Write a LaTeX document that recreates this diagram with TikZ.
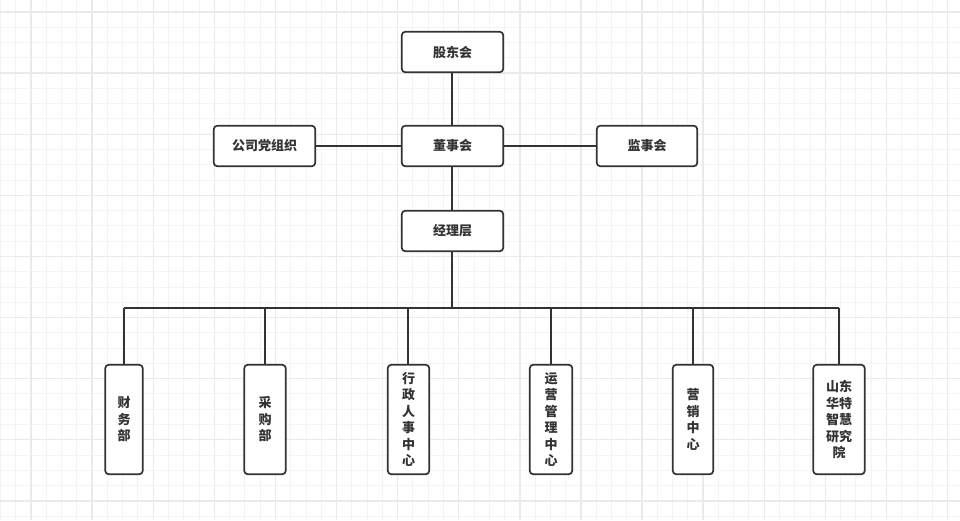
\documentclass[tikz,border=0pt]{standalone}
\usepackage{fontspec}
\newfontfamily\cjk{Noto Sans CJK SC}
\definecolor{ink}{HTML}{333333}
\definecolor{gridminor}{HTML}{F4F4F4}
\definecolor{gridmajor}{HTML}{EAEAEA}
\tikzset{
  box/.style={draw=ink, line width=1.7pt, rounded corners=3.5pt, fill=white, inner sep=0pt,
    font=\cjk\bfseries\fontsize{13}{16.5}\selectfont, text=ink, align=center},
  hbox/.style={box, minimum width=101.5pt, minimum height=40.5pt},
  vbox/.style={box, minimum height=109.5pt},
  link/.style={draw=ink, line width=1.9pt},
  thin link/.style={draw=ink, line width=1.2pt}
}
\begin{document}
\begin{tikzpicture}[x=1pt,y=-1pt]
\useasboundingbox (0,0) rectangle (960,520);
\fill[white] (0,0) rectangle (960,520);
% grid
\foreach \i in {0,...,63} { \draw[gridminor, line width=0.9pt] ({0.45+\i*15.275},0) -- ({0.45+\i*15.275},520); }
\foreach \j in {0,...,35} { \draw[gridminor, line width=0.9pt] (0,{-3.275+\j*15.275}) -- (960,{-3.275+\j*15.275}); }
\foreach \i in {0,...,15} { \draw[gridmajor, line width=1.4pt] ({31+\i*61.1},0) -- ({31+\i*61.1},520); }
\foreach \j in {0,...,8} { \draw[gridmajor, line width=1.4pt] (0,{12+\j*61.1}) -- (960,{12+\j*61.1}); }

% top nodes
\node[hbox] (gd) at (452.5,52) {股东会};
\node[hbox] (ds) at (452.5,146) {董事会};
\node[hbox] (jl) at (452.5,231) {经理层};
\node[hbox] (dz) at (264.5,146) {公司党组织};
\node[hbox, minimum width=100.5pt] (js) at (647,146) {监事会};

% bottom nodes
\node[vbox, minimum width=37.5pt] (cw) at (124,419.5) {财\\务\\部};
\node[vbox, minimum width=41.5pt] (cg) at (265,419.5) {采\\购\\部};
\node[vbox, minimum width=41.5pt] (xz) at (408.5,419.5) {行\\政\\人\\事\\中\\心};
\node[vbox, minimum width=42.5pt] (yy) at (551,419.5) {运\\营\\管\\理\\中\\心};
\node[vbox, minimum width=40.5pt] (yx) at (693,419.5) {营\\销\\中\\心};
\node[vbox, minimum width=51.5pt] (sd) at (839,419.5) {山东\\华特\\智慧\\研究\\院};

% connectors
\draw[link] ([xshift=-0.5pt]gd.south) -- ([xshift=-0.5pt]ds.north);
\draw[link] ([xshift=-0.5pt]ds.south) -- ([xshift=-0.5pt]jl.north);
\draw[link] (dz) -- (ds);
\draw[link] (ds) -- (js);
\coordinate (bus) at (452,308);
\coordinate (busL) at (124,308);
\coordinate (busX) at (408,308);
\coordinate (busM) at (551,308);
\coordinate (busR) at (839,308);
\draw[link, line width=2pt] (bus |- jl.south) -- (bus);
\draw[link, line width=1.7pt] (busL) -- (busM);
\draw[thin link] (busM) -- (busR);
\draw[link, line width=1.7pt] (busL) -- (cw.north);
\draw[thin link] (cg.north |- bus) -- (cg.north);
\draw[link, line width=1.7pt] (busX) -- (busX |- xz.north);
\draw[link, line width=1.7pt] (busM) -- (yy.north);
\draw[thin link] (yx.north |- bus) -- (yx.north);
\draw[link, line width=1.5pt] (busR) -- (sd.north);
\end{tikzpicture}
\end{document}
